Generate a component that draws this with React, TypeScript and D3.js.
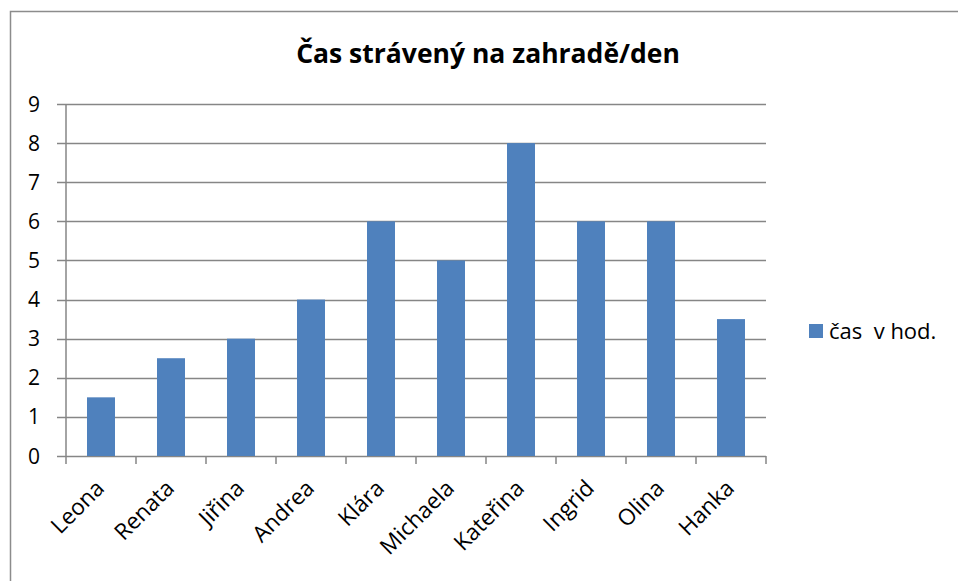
import React from "react";
import * as d3 from "d3";

const categories = ["Leona", "Renata", "Jiřina", "Andrea", "Klára", "Michaela", "Kateřina", "Ingrid", "Olina", "Hanka"];
const values = [1.5, 2.5, 3, 4, 6, 5, 8, 6, 6, 3.5];
const yTicks = [0, 1, 2, 3, 4, 5, 6, 7, 8, 9];
const title = "Čas strávený na zahradě/den";
const seriesName = "čas  v hod.";

const W = 958;
const H = 581;
const FONT = "'Open Sans', Lato, sans-serif";
const BAR = "#4F81BD";
const GRID = "#868686";

export default function App() {
  const x = d3.scaleBand<string>().domain(categories).range([66, 766]).paddingInner(0.6).paddingOuter(0.3);
  const y = d3.scaleLinear().domain([0, 9]).range([456, 104]);
  const step = x.step();
  const left = 66, right = 766;
  return (
    <svg width={W} height={H} style={{ position: "absolute", left: 0, top: 0 }}>
      <rect x={0} y={0} width={W} height={H} fill="#fff" />
      <path d={`M10.5,${H + 5}V11.5H${W + 5}`} fill="none" stroke="#8c8c8c" strokeWidth={1.5} />
      <text x={488} y={63} textAnchor="middle" fontFamily={FONT} fontWeight="bold" fontSize={26.5} fill="#000">{title}</text>
      {yTicks.map((t) => (
        <g key={t}>
          <line x1={57} x2={right} y1={Math.round(y(t)) + 0.5} y2={Math.round(y(t)) + 0.5} stroke={GRID} strokeWidth={1.5} />
          <text x={40} y={y(t)} dy="0.36em" textAnchor="end" fontFamily={FONT} fontSize={21} fill="#000">{t}</text>
        </g>
      ))}
      <line x1={left} x2={left} y1={y(9)} y2={y(0)} stroke={GRID} strokeWidth={1.5} />
      {categories.map((c, i) => (
        <line key={"t" + i} x1={left + i * step} x2={left + i * step} y1={y(0)} y2={y(0) + 8} stroke={GRID} strokeWidth={1.5} />
      ))}
      <line x1={right} x2={right} y1={y(0)} y2={y(0) + 8} stroke={GRID} strokeWidth={1.5} />
      {categories.map((c, i) => (
        <rect key={c} x={x(c)!} y={y(values[i])} width={x.bandwidth()} height={y(0) - y(values[i])} fill={BAR} />
      ))}
      {categories.map((c) => {
        const cx = x(c)! + x.bandwidth() / 2 - 1;
        const cy = 484;
        return (
          <text key={"l" + c} x={cx} y={cy} textAnchor="end" fontFamily={FONT} fontSize={22.5} fill="#000" transform={`rotate(-45,${cx},${cy})`} dy="0.35em">{c}</text>
        );
      })}
      <rect x={809} y={324} width={14} height={14} fill={BAR} />
      <text x={829} y={331} dy="0.36em" fontFamily={FONT} fontSize={22} fill="#000" style={{ whiteSpace: "pre" }}>{seriesName}</text>
    </svg>
  );
}
